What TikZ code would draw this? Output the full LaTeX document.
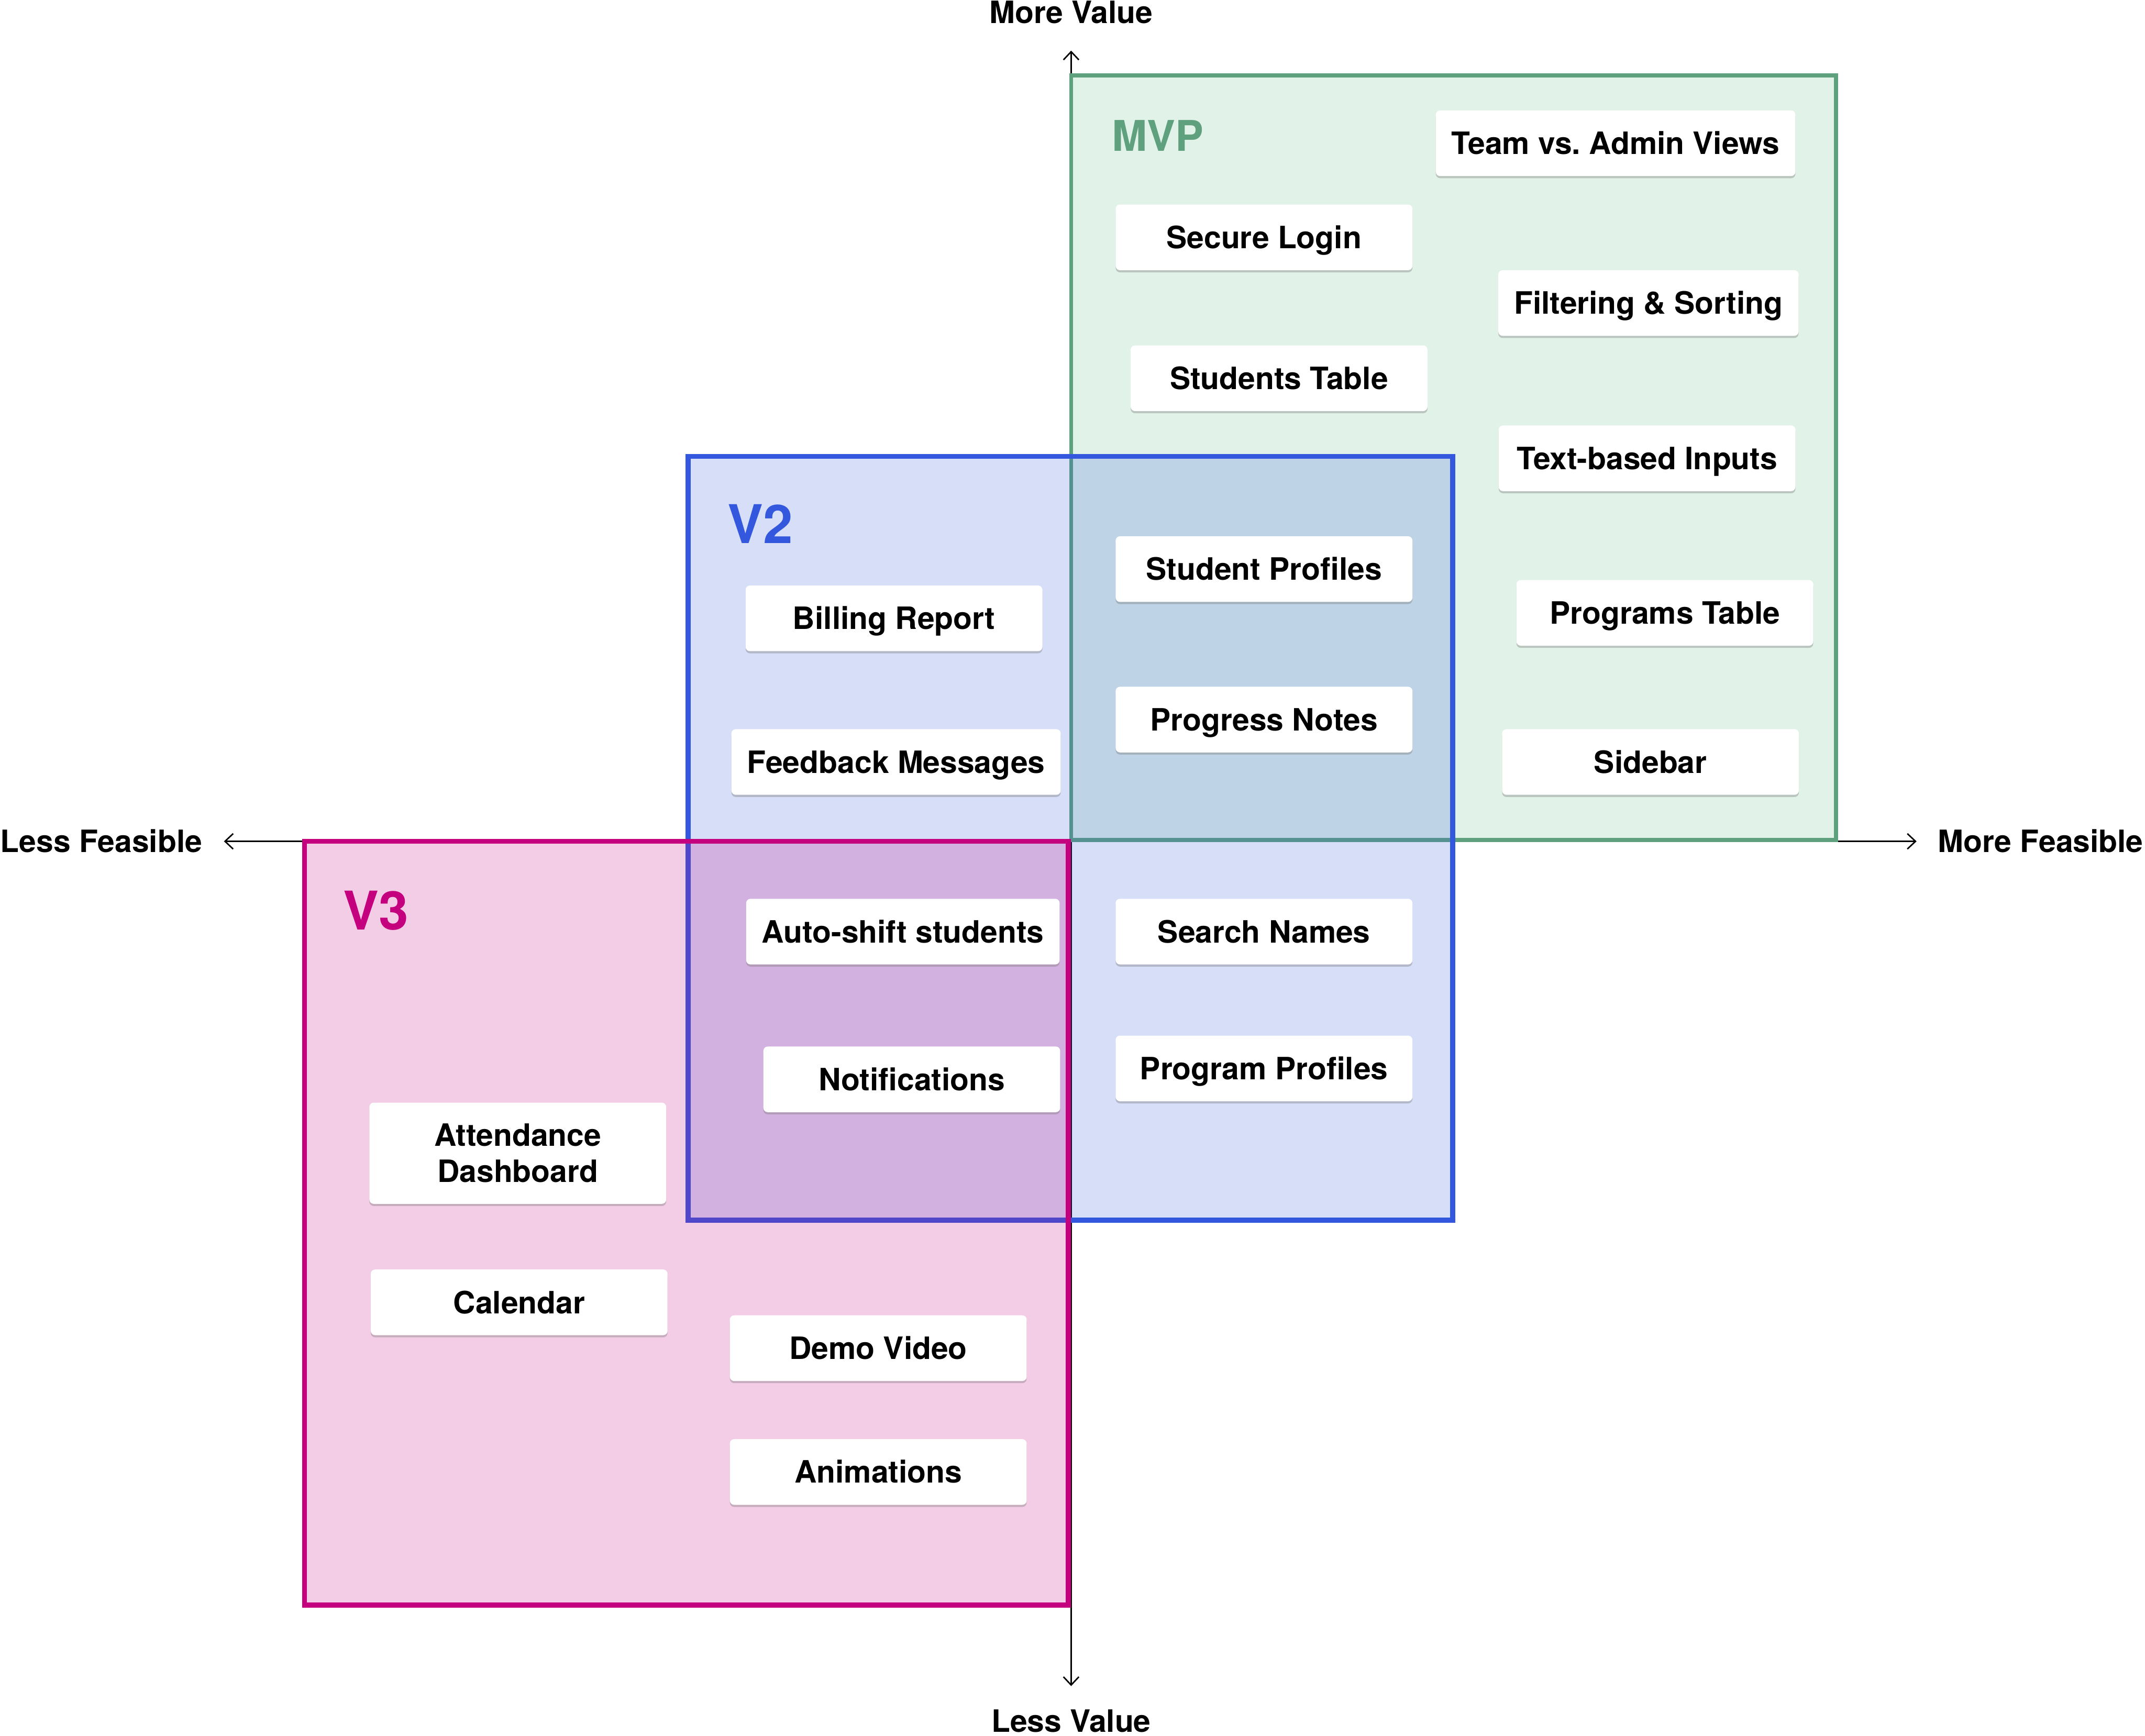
\documentclass[tikz,border=0pt]{standalone}
\usepackage{fontspec}
\setmainfont{TeX Gyre Heros}
\usetikzlibrary{arrows.meta,shadows}
\definecolor{mvpline}{RGB}{95,160,126}
\definecolor{mvpfill}{RGB}{225,242,232}
\definecolor{vtwoline}{RGB}{51,88,221}
\definecolor{vthreeline}{RGB}{196,0,126}
\begin{document}
\begin{tikzpicture}[x=0.02cm,y=-0.02cm,
  card/.style={fill=white, rounded corners=1.8pt, inner xsep=0.23cm,
    minimum width=4.34cm, minimum height=0.96cm, align=center,
    font=\bfseries\fontsize{12.8}{15}\selectfont,
    drop shadow={shadow xshift=0pt, shadow yshift=-0.9pt, opacity=0.35, fill=black!55}},
  item/.style={card, text height=9.2pt, text depth=0pt},
  axislabel/.style={inner sep=0pt, font=\bfseries\fontsize{12.8}{15}\selectfont},
  version/.style={inner sep=0pt, anchor=base west},
  barb/.style={line width=0.6pt, {Straight Barb[length=3.4pt,width=6.4pt]}-{Straight Barb[length=3.4pt,width=6.4pt]}}]
\useasboundingbox (0,0) rectangle (1568,1269);
% axes
\coordinate (valtop) at (783,37);
\coordinate (valbot) at (783,1232.5);
\coordinate (feasleft) at (163.7,615);
\coordinate (feasright) at (1401,615);
\draw[barb] (valbot)--(valtop);
\draw[barb] (feasleft)--(feasright);
\node[axislabel, anchor=base] (moreval) at (783,17) {More Value};
\node[axislabel, anchor=base] (lessval) at (783,1266) {Less Value};
\node[axislabel, anchor=base west] (lessfeas) at (0,623) {Less Feasible};
\node[axislabel, anchor=base east] (morefeas) at (1567,623) {More Feasible};
% releases
\filldraw[draw=mvpline, fill=mvpfill, line width=1.7pt] (783,55)rectangle(1342,614);
\filldraw[draw=vtwoline, fill=vtwoline, fill opacity=0.2, line width=2.1pt] (503,333.6)rectangle(1062,892);
\filldraw[draw=vthreeline, fill=vthreeline, fill opacity=0.2, line width=2.1pt] (222.6,615)rectangle(781,1173.4);
\node[version, text=mvpline, font=\bfseries\fontsize{17.6}{20}\selectfont] (mvplabel) at (812.5,110.6) {MVP};
\node[version, text=vtwoline, font=\bfseries\fontsize{22.2}{26}\selectfont] (vtwolabel) at (531.4,397.3) {V2};
\node[version, text=vthreeline, font=\bfseries\fontsize{22.2}{26}\selectfont] (vthreelabel) at (250.5,679.6) {V3};
% MVP features
\node[item] (teamviews) at (1181,104.7) {Team vs.\ Admin Views};
\node[item] (securelogin) at (924,173.5) {Secure Login};
\node[item] (filtering) at (1205,221.5) {Filtering \& Sorting};
\node[item] (studentstable) at (935,276.5) {Students Table};
\node[item] (textinputs) at (1204,335) {Text-based Inputs};
\node[item] (studentprofiles) at (924,416) {Student Profiles};
\node[item] (programstable) at (1217,448) {Programs Table};
\node[item] (progressnotes) at (924,526) {Progress Notes};
\node[item] (sidebar) at (1206.5,557) {Sidebar};
% V2 features
\node[item] (billing) at (653.5,452) {Billing Report};
\node[item] (feedback) at (655,557) {Feedback Messages};
\node[item] (autoshift) at (660,681) {Auto-shift students};
\node[item] (notifications) at (666.5,789) {Notifications};
\node[item] (searchnames) at (924,681) {Search Names};
\node[item] (programprofiles) at (924,781) {Program Profiles};
% V3 features
\node[card, minimum height=1.48cm] (attendance) at (378.5,843) {Attendance\\Dashboard};
\node[item] (calendar) at (379.5,952) {Calendar};
\node[item] (demovideo) at (642,985.5) {Demo Video};
\node[item] (animations) at (642,1076) {Animations};
\end{tikzpicture}
\end{document}
